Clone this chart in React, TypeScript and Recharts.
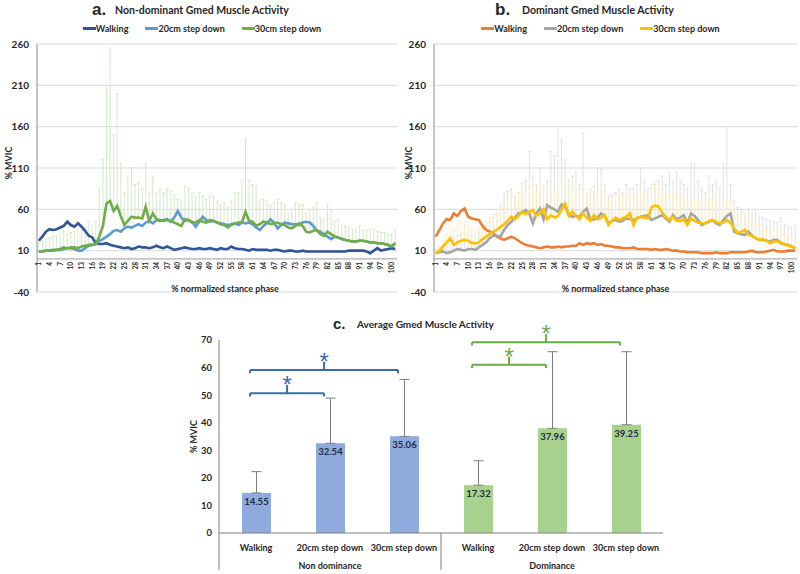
import React from 'react'
import {
  LineChart, Line, XAxis, YAxis, CartesianGrid, ReferenceLine, ErrorBar, Legend,
  BarChart, Bar, Cell, LabelList, ReferenceDot,
} from 'recharts'

// % normalized stance phase, 1..101
const phase = Array.from({ length: 101 }, (_, i) => String(i + 1))
const yTicks = [-40, 10, 60, 110, 160, 210, 260]

// non-dominant side
const ndWalk = [
  22, 27, 33, 36, 35, 36, 38, 40, 45, 41,
  39, 43, 39, 34, 28, 26, 19, 18, 18, 19,
  17, 16, 15, 14, 13, 14, 12, 13, 15, 14,
  14, 13, 14, 16, 14, 13, 15, 13, 11, 12,
  13, 14, 13, 12, 12, 13, 12, 12, 13, 12,
  11, 13, 12, 12, 15, 13, 12, 12, 11, 10,
  12, 11, 11, 11, 11, 10, 11, 11, 10, 9,
  10, 10, 9, 9, 10, 9, 9, 9, 9, 9,
  9, 9, 9, 9, 9, 9, 9, 10, 10, 10,
  10, 10, 9, 7, 10, 13, 10, 11, 12, 13, 12,
]
const nd20 = [
  9, 9, 10, 10, 10, 11, 11, 12, 13, 13,
  12, 10, 10, 13, 16, 17, 18, 22, 24, 27,
  30, 34, 35, 33, 37, 39, 38, 40, 42, 40,
  44, 46, 43, 47, 46, 47, 48, 45, 50, 58,
  50, 46, 47, 45, 39, 45, 51, 47, 45, 46,
  44, 43, 42, 41, 42, 43, 41, 44, 43, 44,
  42, 38, 35, 40, 43, 48, 44, 37, 41, 44,
  43, 42, 42, 41, 44, 45, 44, 40, 34, 33,
  30, 27, 24, 27, 26, 24, 23, 22, 21, 21,
  22, 22, 21, 20, 20, 19, 19, 18, 17, 15, 19,
]
const nd30 = [
  9, 9, 10, 10, 11, 11, 12, 14, 13, 14,
  14, 13, 15, 16, 17, 17, 18, 27, 40, 67,
  70, 58, 64, 52, 41, 46, 51, 50, 50, 49,
  63, 46, 55, 48, 47, 46, 47, 46, 44, 42,
  40, 48, 47, 44, 44, 47, 45, 44, 47, 46,
  44, 42, 41, 38, 41, 43, 44, 44, 57, 46,
  45, 40, 42, 45, 44, 42, 43, 44, 42, 41,
  38, 37, 40, 43, 40, 33, 32, 34, 35, 30,
  28, 33, 30, 27, 26, 24, 23, 22, 21, 21,
  22, 22, 21, 20, 20, 19, 19, 18, 17, 15, 19,
]
// top of the +SD bar, 30cm step down
const nd30Upper = [
  20, 22, 24, 25, 27, 28, 30, 33, 30, 32,
  33, 30, 35, 38, 45, 40, 45, 85, 120, 210,
  255, 150, 200, 115, 80, 100, 110, 90, 92, 85,
  115, 80, 100, 80, 85, 80, 85, 82, 78, 72,
  70, 88, 86, 80, 75, 80, 76, 72, 76, 75,
  70, 65, 68, 62, 70, 80, 80, 95, 145, 95,
  90, 88, 70, 72, 70, 65, 68, 72, 68, 65,
  55, 60, 68, 66, 65, 55, 58, 62, 68, 50,
  48, 65, 58, 45, 48, 42, 40, 38, 36, 36,
  40, 35, 34, 36, 35, 33, 32, 32, 30, 30, 35,
]

// dominant side
const dWalk = [
  27, 35, 43, 48, 47, 55, 52, 58, 61, 51,
  49, 48, 47, 40, 35, 33, 31, 27, 25, 23,
  25, 27, 25, 22, 19, 17, 16, 15, 14, 13,
  14, 15, 14, 14, 15, 14, 15, 15, 16, 16,
  19, 17, 19, 18, 19, 17, 18, 16, 16, 15,
  14, 14, 13, 13, 13, 14, 12, 12, 12, 12,
  11, 12, 11, 11, 12, 11, 10, 10, 9, 9,
  8, 8, 8, 8, 7, 7, 7, 7, 8, 7,
  7, 7, 8, 8, 8, 8, 8, 9, 10, 8,
  8, 8, 9, 10, 11, 9, 9, 9, 10, 10, 10,
]
const d20 = [
  7, 8, 9, 7, 8, 10, 12, 11, 10, 12,
  12, 11, 14, 17, 20, 25, 28, 28, 27, 35,
  41, 45, 50, 55, 56, 59, 55, 43, 55, 61,
  48, 65, 62, 60, 57, 66, 63, 53, 51, 52,
  51, 57, 61, 47, 48, 50, 55, 52, 43, 46,
  47, 45, 46, 49, 48, 47, 49, 51, 52, 53,
  47, 49, 51, 53, 49, 45, 53, 48, 50, 53,
  43, 55, 52, 47, 41, 43, 45, 47, 43, 41,
  47, 52, 55, 33, 31, 30, 29, 33, 28, 25,
  23, 23, 22, 21, 23, 23, 19, 18, 17, 15, 13,
]
const d30 = [
  7, 10, 15, 20, 25, 17, 20, 22, 23, 22,
  19, 19, 20, 24, 27, 30, 33, 35, 39, 42,
  46, 51, 48, 52, 57, 54, 57, 59, 52, 55,
  60, 48, 53, 50, 52, 60, 67, 52, 57, 52,
  48, 55, 50, 46, 53, 48, 50, 53, 41, 46,
  50, 47, 49, 51, 55, 41, 50, 51, 50, 49,
  62, 65, 63, 56, 50, 47, 51, 46, 46, 48,
  41, 49, 46, 44, 43, 43, 46, 47, 45, 43,
  44, 47, 44, 37, 31, 33, 35, 29, 28, 25,
  23, 24, 22, 19, 21, 21, 20, 17, 16, 15, 13,
]
const d20Upper = [
  12, 14, 18, 20, 22, 25, 28, 30, 32, 30,
  28, 30, 32, 35, 40, 45, 50, 55, 65, 80,
  82, 85, 75, 80, 92, 95, 130, 100, 90, 110,
  85, 95, 130, 125, 157, 145, 120, 95, 100, 105,
  90, 152, 80, 85, 88, 110, 108, 90, 75, 78,
  80, 85, 80, 90, 85, 85, 90, 110, 95, 85,
  85, 90, 95, 100, 90, 105, 95, 105, 95, 90,
  85, 115, 115, 95, 85, 80, 100, 90, 95, 85,
  115, 160, 90, 70, 62, 58, 55, 60, 55, 60,
  52, 50, 48, 46, 45, 44, 50, 42, 40, 38, 40,
]
const d30Upper = [
  12, 15, 22, 30, 40, 35, 40, 45, 42, 40,
  36, 35, 38, 42, 45, 50, 55, 58, 62, 68,
  72, 78, 75, 80, 85, 82, 88, 90, 82, 85,
  90, 78, 85, 80, 82, 90, 100, 85, 88, 82,
  78, 85, 80, 75, 82, 78, 80, 82, 70, 75,
  78, 76, 78, 80, 85, 70, 78, 80, 78, 78,
  90, 92, 90, 85, 78, 75, 80, 74, 74, 75,
  68, 76, 72, 70, 68, 68, 70, 72, 70, 66,
  68, 70, 68, 60, 52, 54, 56, 48, 46, 42,
  40, 40, 38, 34, 36, 36, 34, 30, 28, 26, 24,
]

// c. averages
const barCats = ['Walking', '20cm step down', '30cm step down', 'Walking', '20cm step down', '30cm step down']
const barMeans = [14.55, 32.54, 35.06, 17.32, 37.96, 39.25]
const barSd = [7.7, 16.4, 20.6, 8.9, 27.8, 26.5]
const groups = ['Non dominance', 'Dominance']
const groupColors = ['#8FAADC', '#A9D18E']
const sigColors = ['#3A6BAA', '#6BAA45']
// significant pairs (category index a vs b) and bracket height in % MVIC
const sigPairs = [
  { a: 0, b: 1, y: 50.7, g: 0 },
  { a: 0, b: 2, y: 59.1, g: 0 },
  { a: 3, b: 4, y: 61, g: 1 },
  { a: 3, b: 5, y: 69.2, g: 1 },
]

const FONT = 'Lato, "Liberation Sans", Arial, sans-serif'
const INK = '#262626'

const upErr = (mean: number[], upper: number[], i: number) => [0, Math.max(0, upper[i] - mean[i])]

const ndRows = phase.map((p, i) => ({
  p, walk: ndWalk[i], s20: nd20[i], s30: nd30[i], e30: upErr(nd30, nd30Upper, i),
}))
const dRows = phase.map((p, i) => ({
  p, walk: dWalk[i], s20: d20[i], s30: d30[i],
  e20: upErr(d20, d20Upper, i), e30: upErr(d30, d30Upper, i),
}))

const LINE_W = 400
const LINE_H = 298
const LINE_TOP = 44
const X_AXIS_H = 6
const PLOT_H = LINE_H - LINE_TOP - X_AXIS_H
const Y_MIN = -40
const Y_MAX = 260
const ZERO_Y = LINE_TOP + (Y_MAX / (Y_MAX - Y_MIN)) * PLOT_H

function PhaseTick({ x, payload }: any) {
  const y = ZERO_Y + 3
  return (
    <text x={x} y={y} transform={`rotate(-90 ${x} ${y})`} textAnchor="end" dominantBaseline="central"
      fontFamily={FONT} fontSize={6.5} fontWeight={700} fill={INK}>
      {payload.value}
    </text>
  )
}

type Ser = { key: string; name: string; color: string }
type Err = { key: string; valueKey: string; color: string }

function LegendRow({ items }: { items: Ser[] }) {
  return (
    <div style={{ display: 'flex', justifyContent: 'center', alignItems: 'center', height: 14, gap: 17,
      fontFamily: FONT, fontSize: 9, fontWeight: 700, color: INK }}>
      {items.map((e) => (
        <span key={e.key} style={{ display: 'flex', alignItems: 'center' }}>
          <span style={{ display: 'inline-block', width: 13, height: 3, background: e.color }} />
          {e.name}
        </span>
      ))}
    </div>
  )
}

function StanceChart({ rows, series, errors, left, tag, title, tagLeft, titleLeft, xTitleDx }: {
  rows: any[]; series: Ser[]; errors: Err[]; left: number; tag: string; title: string;
  tagLeft: number; titleLeft: number; xTitleDx: number
}) {
  return (
    <div style={{ position: 'relative', width: LINE_W, height: LINE_H }}>
      <div style={{ position: 'absolute', left: tagLeft, top: 0, fontFamily: 'Arial, sans-serif', fontWeight: 700, fontSize: 17, color: INK, lineHeight: '20px' }}>{tag}</div>
      <div style={{ position: 'absolute', left: titleLeft, top: 3, fontFamily: FONT, fontWeight: 700, fontSize: 10.5, color: INK, lineHeight: '14px', whiteSpace: 'nowrap' }}>{title}</div>
      <LineChart width={LINE_W} height={LINE_H} data={rows}
        margin={{ top: LINE_TOP - 14, right: 3, bottom: 0, left }}>
        <CartesianGrid vertical={false} stroke="#d9d9d9" />
        <XAxis dataKey="p" scale="band" height={X_AXIS_H} interval={2} tickSize={0} tickMargin={0}
          axisLine={false} tickLine={false} tick={<PhaseTick />}
          label={{
            content: ({ viewBox }: any) => (
              <text x={viewBox.x + viewBox.width / 2 + xTitleDx} y={viewBox.y} textAnchor="middle"
                fontFamily={FONT} fontSize={9} fontWeight={700} fill={INK}>% normalized stance phase</text>
            ),
          }} />
        <YAxis domain={[Y_MIN, Y_MAX]} ticks={yTicks} width={30} tickSize={0} tickMargin={8}
          axisLine={{ stroke: '#8c8c8c' }} tickLine={false}
          tick={{ fontFamily: FONT, fontSize: 10, fontWeight: 700, fill: INK }}
          label={{
            content: ({ viewBox }: any) => {
              const cx = viewBox.x - left + 8
              const cy = viewBox.y + viewBox.height / 2 - 5
              return (
                <text x={cx} y={cy} transform={`rotate(-90 ${cx} ${cy})`} textAnchor="middle" dominantBaseline="central"
                  fontFamily={FONT} fontSize={9} fontWeight={700} fill={INK}>% MVIC</text>
              )
            },
          }} />
        <ReferenceLine y={0} stroke="#9a9a9a" strokeWidth={1} />
        <Legend verticalAlign="top" content={() => <LegendRow items={series} />} wrapperStyle={{ top: 21 }} />
        {errors.map((e) => (
          <Line key={'err-' + e.key} dataKey={e.valueKey} stroke="none" dot={false} activeDot={false}
            legendType="none" isAnimationActive={false}>
            <ErrorBar dataKey={e.key} direction="y" width={1.5} stroke={e.color} strokeWidth={1} />
          </Line>
        ))}
        {series.map((s) => (
          <Line key={s.key} dataKey={s.key} name={s.name} stroke={s.color} strokeWidth={2.6}
            dot={false} activeDot={false} type="linear" isAnimationActive={false} />
        ))}
      </LineChart>
    </div>
  )
}

// bar centres sit in the middle of each unit on a 0..6 numeric axis
const barRows = barCats.map((c, i) => ({ pos: i + 0.5, cond: c, mean: barMeans[i], err: [0, barSd[i]] }))

function CondTick({ x, y, index }: any) {
  const group = index % 3 === 1 ? groups[Math.floor(index / 3)] : null
  return (
    <g>
      <text x={x} y={y + 14} textAnchor="middle" dominantBaseline="central"
        fontFamily={FONT} fontSize={9} fontWeight={700} fill={INK}>{barCats[index]}</text>
      {group && (
        <text x={x} y={y + 32} textAnchor="middle" dominantBaseline="central"
          fontFamily={FONT} fontSize={9} fontWeight={700} fill={INK}>{group}</text>
      )}
    </g>
  )
}

function AveragePanel() {
  return (
    <div style={{ position: 'relative', width: 800, height: 284 }}>
      <div style={{ position: 'absolute', left: 333, top: 24, fontFamily: 'Arial, sans-serif', fontWeight: 700, fontSize: 15, color: INK, lineHeight: '20px' }}>c.</div>
      <div style={{ position: 'absolute', left: 357, top: 27, fontFamily: FONT, fontWeight: 700, fontSize: 10, color: INK, lineHeight: '14px', whiteSpace: 'nowrap' }}>Average Gmed Muscle Activity</div>
      <BarChart width={800} height={284} data={barRows} margin={{ top: 50, right: 137, bottom: 0, left: 189 }}>
        <XAxis dataKey="pos" type="number" domain={[0, 6]} allowDataOverflow ticks={barRows.map((r) => r.pos)}
          height={41} interval={0} tickSize={0} tickMargin={0}
          axisLine={{ stroke: '#7f7f7f' }} tickLine={false} tick={<CondTick />} />
        <YAxis domain={[0, 70]} ticks={[0, 10, 20, 30, 40, 50, 60, 70]} width={30} tickSize={0} tickMargin={7}
          axisLine={{ stroke: '#7f7f7f' }} tickLine={false}
          tick={{ fontFamily: FONT, fontSize: 9.5, fontWeight: 700, fill: INK }}
          label={{
            content: ({ viewBox }: any) => {
              const cx = viewBox.x + 4
              const cy = viewBox.y + viewBox.height / 2
              return (
                <text x={cx} y={cy} transform={`rotate(-90 ${cx} ${cy})`} textAnchor="middle" dominantBaseline="central"
                  fontFamily={FONT} fontSize={9} fontWeight={700} fill={INK}>% MVIC</text>
              )
            },
          }} />
        <Bar dataKey="mean" barSize={29} isAnimationActive={false}>
          {barRows.map((r, i) => <Cell key={i} fill={groupColors[Math.floor(i / 3)]} />)}
          <ErrorBar dataKey="err" direction="y" width={5} stroke="#7f7f7f" strokeWidth={1} />
          <LabelList dataKey="mean" position="insideTop" offset={5}
            style={{ fontFamily: FONT, fontSize: 9.5, fontWeight: 700, fill: '#1f2b3d' }} />
        </Bar>
        {[0, 3].map((s) => (
          <ReferenceLine key={'sep' + s} ifOverflow="visible" stroke="#7f7f7f"
            segment={[{ x: s, y: 0 }, { x: s, y: -13.4 }]} />
        ))}
        {sigPairs.map((s, i) => {
          const x1 = s.a + 0.42
          const x2 = s.b + 0.42
          const mid = (x1 + x2) / 2
          const c = sigColors[s.g]
          return (
            <React.Fragment key={'sig' + i}>
              <ReferenceLine ifOverflow="visible" stroke={c} strokeWidth={2}
                segment={[{ x: x1, y: s.y - 1.2 }, { x: x1, y: s.y }]} />
              <ReferenceLine ifOverflow="visible" stroke={c} strokeWidth={2}
                segment={[{ x: x1, y: s.y }, { x: x2, y: s.y }]} />
              <ReferenceLine ifOverflow="visible" stroke={c} strokeWidth={2}
                segment={[{ x: x2, y: s.y }, { x: x2, y: s.y - 1.2 }]} />
              <ReferenceLine ifOverflow="visible" stroke={c} strokeWidth={2}
                segment={[{ x: mid, y: s.y }, { x: mid, y: s.y + 3 }]} />
              <ReferenceDot x={mid} y={s.y + 5.2} r={1} fill="none" stroke="none" ifOverflow="visible"
                label={{ value: '*', position: 'center', fill: c, fontSize: 24, fontFamily: '"Liberation Sans", Arial, sans-serif', dy: 6 }} />
            </React.Fragment>
          )
        })}
      </BarChart>
    </div>
  )
}

const ndSeries: Ser[] = [
  { key: 'walk', name: 'Walking', color: '#2F5597' },
  { key: 's20', name: '20cm step down', color: '#5B9BD5' },
  { key: 's30', name: '30cm step down', color: '#70AD47' },
]
const dSeries: Ser[] = [
  { key: 'walk', name: 'Walking', color: '#ED7D31' },
  { key: 's20', name: '20cm step down', color: '#A5A5A5' },
  { key: 's30', name: '30cm step down', color: '#FFC000' },
]

export default function App() {
  return (
    <div style={{ position: 'absolute', left: 0, top: 0, width: 800, height: 574, background: '#fff', overflow: 'hidden' }}>
      <div style={{ position: 'absolute', left: 0, top: 0 }}>
        <StanceChart rows={ndRows} series={ndSeries}
          errors={[{ key: 'e30', valueKey: 's30', color: '#d6e8ca' }]}
          left={7} tag="a." title="Non-dominant Gmed Muscle Activity" tagLeft={92} titleLeft={115} xTitleDx={8} />
      </div>
      <div style={{ position: 'absolute', left: 400, top: 0 }}>
        <StanceChart rows={dRows} series={dSeries}
          errors={[
            { key: 'e20', valueKey: 's20', color: '#e2e2e2' },
            { key: 'e30', valueKey: 's30', color: '#fcefc6' },
          ]}
          left={4} tag="b." title="Dominant Gmed Muscle Activity" tagLeft={95} titleLeft={122} xTitleDx={0} />
      </div>
      <div style={{ position: 'absolute', left: 0, top: 290 }}>
        <AveragePanel />
      </div>
    </div>
  )
}
